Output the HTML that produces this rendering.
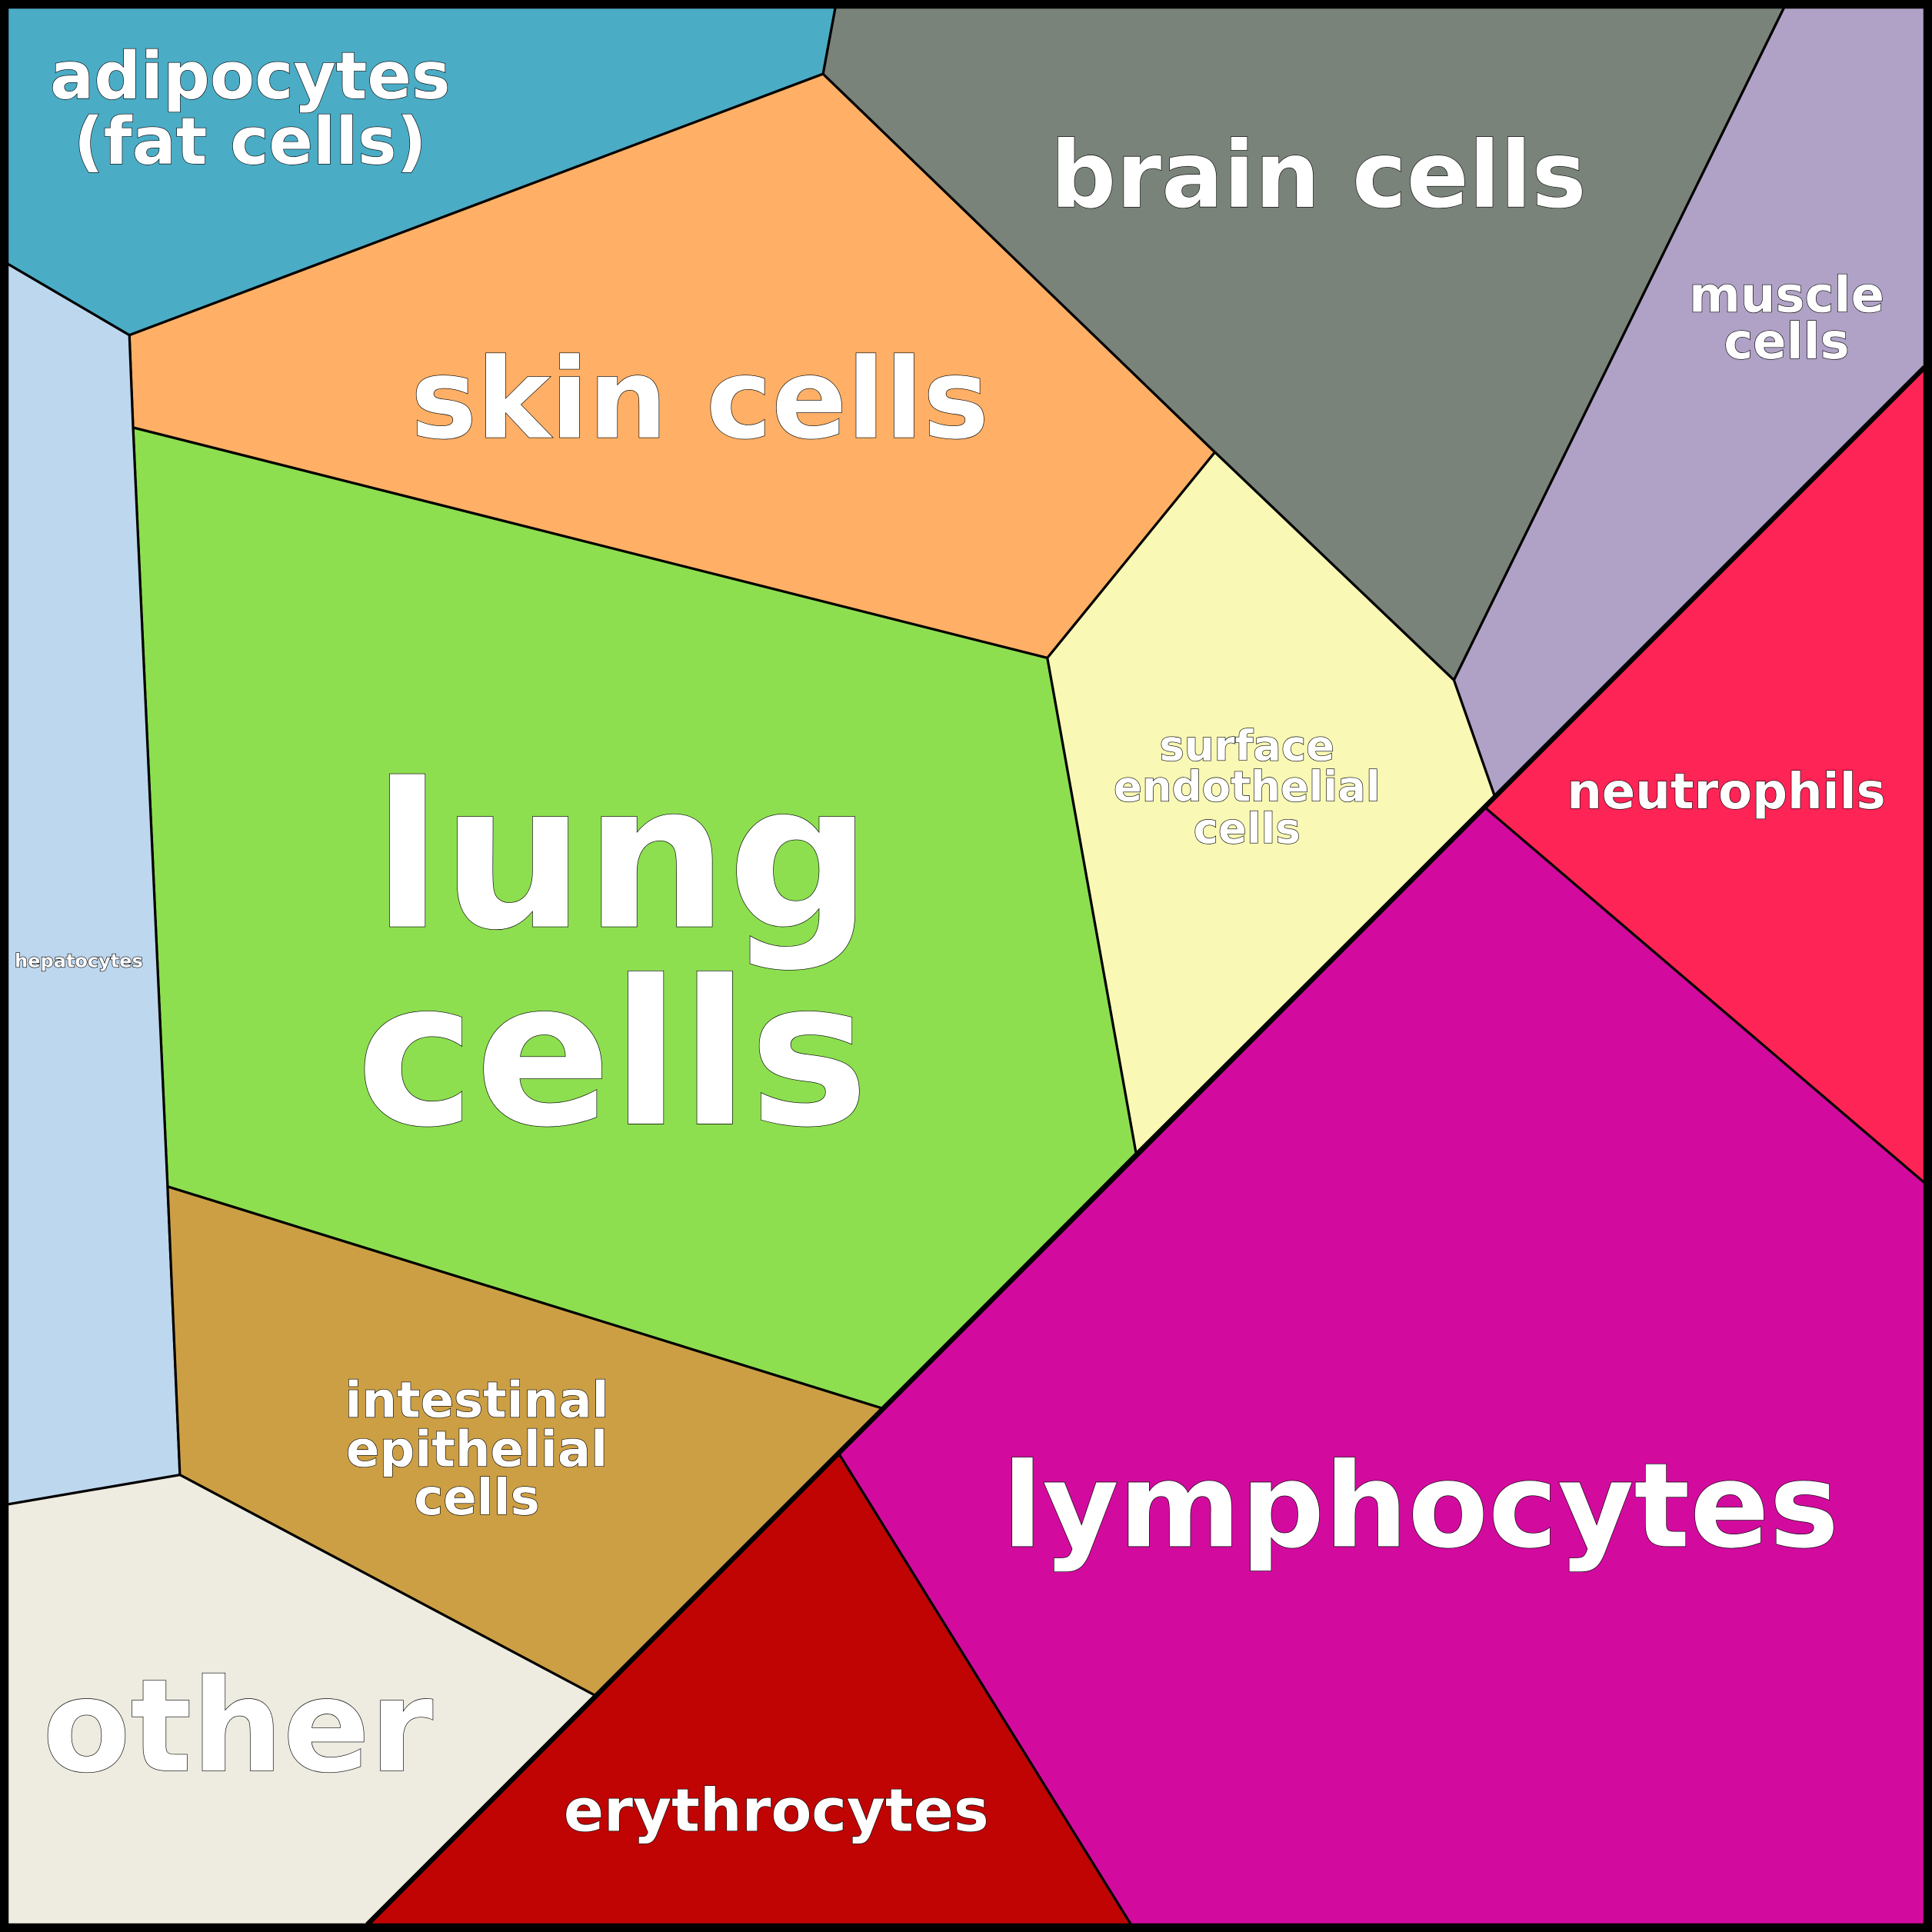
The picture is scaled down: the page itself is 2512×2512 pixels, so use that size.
<!DOCTYPE html>
<html><head><meta charset="utf-8"><style>
html,body{margin:0;padding:0;background:#000}
svg{display:block}
text{font-family:"DejaVu Sans","Liberation Sans",sans-serif;font-weight:bold;fill:#fff;stroke:#000;stroke-width:0.8;paint-order:stroke;text-anchor:middle}
</style></head><body>
<svg width="2512" height="2512" viewBox="0 0 1568 1568" xmlns="http://www.w3.org/2000/svg">
<g stroke="#000" stroke-width="2" stroke-linejoin="round">
<polygon fill="#4bacc6" points="6,6 678,6 668,60 105,272 6,214"/>
<polygon fill="#ffb066" points="668,60 105,272 108,347 850,534 986,367"/>
<polygon fill="#7a8379" points="678,6 1448,6 1180,552 986,367 668,60"/>
<polygon fill="#b0a2c6" points="1448,6 1562,6 1562,298 1213,646 1180,552"/>
<polygon fill="#f9f9b5" points="986,367 1180,552 1213,646 922,936 850,534"/>
<polygon fill="#8ddf50" points="108,347 850,534 922,936 716,1143 136,963"/>
<polygon fill="#bdd7ee" points="6,214 105,272 108,347 136,963 146,1197 6,1221"/>
<polygon fill="#cd9f45" points="136,963 716,1143 483,1376 146,1197"/>
<polygon fill="#eeece0" points="6,1221 146,1197 483,1376 298,1562 6,1562"/>
<polygon fill="#c00404" points="681,1180 298,1562 918,1562"/>
<polygon fill="#d20b9e" points="1213,646 1206,656 1562,960 1562,1562 918,1562 681,1180"/>
<polygon fill="#ff2456" points="1562,298 1562,960 1206,656 1213,646"/>
</g>
<line x1="1562" y1="298" x2="298" y2="1562" stroke="#000" stroke-width="4"/>
<rect x="3" y="3" width="1562" height="1562" fill="none" stroke="#000" stroke-width="7"/>
<text x="203" y="80" font-size="53">adipocytes</text>
<text x="203" y="133" font-size="53">(fat cells)</text>
<text x="1070" y="168" font-size="74.5">brain cells</text>
<text x="1450" y="253" font-size="40">muscle</text>
<text x="1450" y="291" font-size="40">cells</text>
<text x="568" y="355" font-size="90">skin cells</text>
<text x="505" y="752" font-size="163">lung</text>
<text x="497" y="912" font-size="163">cells</text>
<text x="1012" y="617" font-size="34">surface</text>
<text x="1012" y="650" font-size="34">endothelial</text>
<text x="1012" y="684" font-size="34">cells</text>
<text x="1401" y="656" font-size="40">neutrophils</text>
<text x="64" y="785" font-size="15" stroke-width="0.4">hepatocytes</text>
<text x="387" y="1150" font-size="40">intestinal</text>
<text x="387" y="1190" font-size="40">epithelial</text>
<text x="387" y="1229" font-size="40">cells</text>
<text x="1153" y="1255" font-size="95">lymphocytes</text>
<text x="193" y="1437" font-size="104">other</text>
<text x="630" y="1486" font-size="48">erythrocytes</text>
</svg>
</body></html>
